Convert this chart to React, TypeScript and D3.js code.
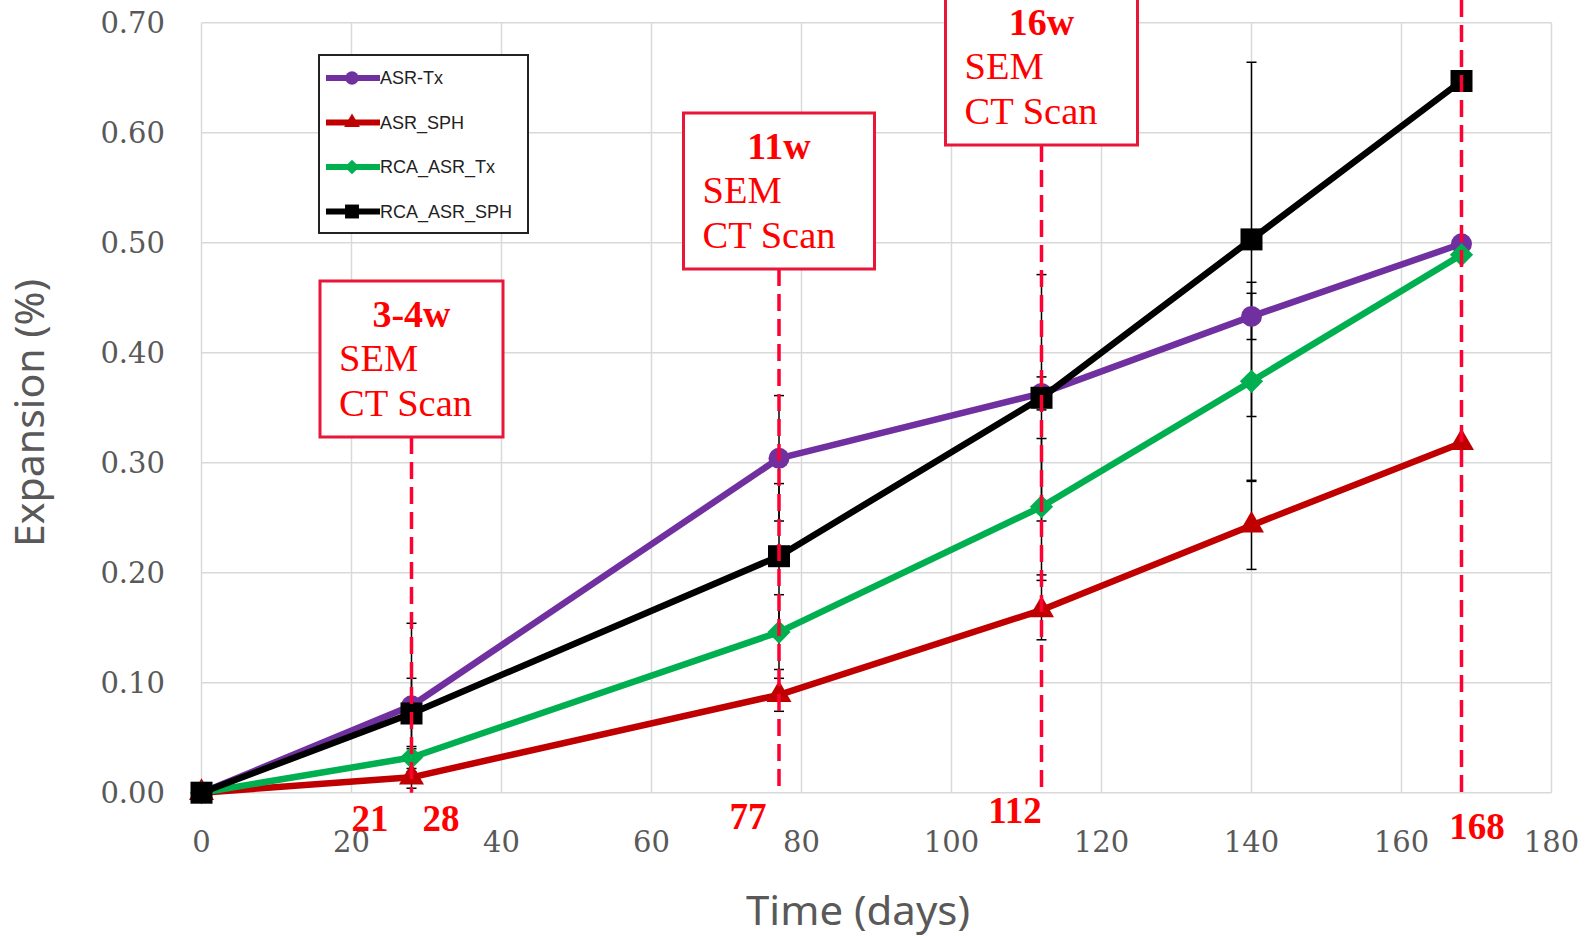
import React, { useEffect, useRef } from "react";
import * as d3 from "d3";

// time in days
const days = [0, 28, 77, 112, 140, 168];

// expansion (%) per series, with error bar half-widths
const asrTx = [0, 0.079, 0.304, 0.363, 0.433, 0.499];
const asrTxErr = [0, 0.075, 0.057, 0.015, 0.021, 0];
const asrSph = [0, 0.014, 0.089, 0.166, 0.243, 0.318];
const asrSphErr = [0, 0.005, 0.015, 0.027, 0.04, 0];
const rcaTx = [0, 0.032, 0.146, 0.26, 0.374, 0.489];
const rcaTxErr = [0, 0.01, 0.034, 0.062, 0.09, 0];
const rcaSph = [0, 0.072, 0.215, 0.359, 0.503, 0.647];
const rcaSphErr = [0, 0.032, 0.066, 0.112, 0.161, 0];

const seriesNames = ["ASR-Tx", "ASR_SPH", "RCA_ASR_Tx", "RCA_ASR_SPH"];

const xTicks = [0, 20, 40, 60, 80, 100, 120, 140, 160, 180];
const yTicks = [0, 0.1, 0.2, 0.3, 0.4, 0.5, 0.6, 0.7];

// sampling ages (red dashed lines) and their notes
const sampleDays = [28, 77, 112, 168];
const noteDays = [28, 77, 112];
const noteTitles = ["3-4w", "11w", "16w"];
const noteLines = ["SEM", "CT Scan"];
const dayLabelText = ["21", "28", "77", "112", "168"];
const dayLabelAt = [28, 28, 77, 112, 168];

const W = 1587;
const H = 936;

export default function App() {
  const ref = useRef<SVGSVGElement>(null);

  useEffect(() => {
    const svg = d3.select(ref.current);
    svg.selectAll("*").remove();

    const left = 201.5, right = 1551.5, top = 22.7, bottom = 792.7;
    const x = d3.scaleLinear().domain([0, 180]).range([left, right]);
    const y = d3.scaleLinear().domain([0, 0.7]).range([bottom, top]);

    const series = [
      { name: seriesNames[0], vals: asrTx, err: asrTxErr, color: "#7030A0", shape: "circle" },
      { name: seriesNames[1], vals: asrSph, err: asrSphErr, color: "#C00000", shape: "triangle" },
      { name: seriesNames[2], vals: rcaTx, err: rcaTxErr, color: "#00B050", shape: "diamond" },
      { name: seriesNames[3], vals: rcaSph, err: rcaSphErr, color: "#000000", shape: "square" },
    ];

    const symbolPath = (shape: string, scale: number) => {
      if (shape === "circle") return d3.symbol(d3.symbolCircle, 346 * scale)();
      if (shape === "triangle") return d3.symbol(d3.symbolTriangle, 270 * scale)();
      if (shape === "square") return d3.symbol(d3.symbolSquare, 484 * scale)();
      return d3.symbol(d3.symbolSquare, 270 * scale)();
    };

    // grid
    const grid = svg.append("g");
    grid.selectAll("line.h")
      .data(yTicks)
      .enter()
      .append("line")
      .attr("x1", left)
      .attr("x2", right)
      .attr("y1", (d) => y(d))
      .attr("y2", (d) => y(d))
      .attr("stroke", "#D9D9D9")
      .attr("stroke-width", 1.5);
    grid.selectAll("line.v")
      .data(xTicks)
      .enter()
      .append("line")
      .attr("x1", (d) => x(d))
      .attr("x2", (d) => x(d))
      .attr("y1", top)
      .attr("y2", bottom)
      .attr("stroke", "#D9D9D9")
      .attr("stroke-width", 1.5);

    // tick labels
    svg.append("g")
      .selectAll("text")
      .data(yTicks)
      .enter()
      .append("text")
      .attr("x", 165)
      .attr("y", (d) => y(d))
      .attr("dy", "0.36em")
      .attr("text-anchor", "end")
      .attr("font-family", "DejaVu Serif")
      .attr("font-size", 29)
      .attr("fill", "#595959")
      .text((d) => d3.format(".2f")(d));

    svg.append("g")
      .selectAll("text")
      .data(xTicks)
      .enter()
      .append("text")
      .attr("x", (d) => x(d))
      .attr("y", 842)
      .attr("dy", "0.36em")
      .attr("text-anchor", "middle")
      .attr("font-family", "DejaVu Serif")
      .attr("font-size", 29)
      .attr("fill", "#595959")
      .text((d) => d);

    // axis titles
    svg.append("text")
      .attr("transform", "translate(44, 413) rotate(-90)")
      .attr("text-anchor", "middle")
      .attr("font-family", "Noto Sans")
      .attr("font-size", 40)
      .attr("fill", "#595959")
      .attr("textLength", 268)
      .attr("lengthAdjust", "spacingAndGlyphs")
      .text("Expansion (%)");

    svg.append("text")
      .attr("x", 858)
      .attr("y", 925)
      .attr("text-anchor", "middle")
      .attr("font-family", "Noto Sans")
      .attr("font-size", 40)
      .attr("fill", "#595959")
      .attr("textLength", 224)
      .attr("lengthAdjust", "spacingAndGlyphs")
      .text("Time (days)");

    const plot = svg.append("g");
    plot.append("clipPath").attr("id", "clip")
      .append("rect").attr("x", left).attr("y", top).attr("width", right - left).attr("height", bottom - top);

    // error bars
    const eb = plot.append("g").attr("clip-path", "url(#clip)");
    series.forEach((s) => {
      days.forEach((d, i) => {
        const e = s.err[i];
        if (!e) return;
        const g = eb.append("g").attr("stroke", "#000").attr("stroke-width", 1.5);
        g.append("line")
          .attr("x1", x(d)).attr("x2", x(d))
          .attr("y1", y(s.vals[i] + e)).attr("y2", y(s.vals[i] - e));
        [s.vals[i] + e, s.vals[i] - e].forEach((v) => {
          g.append("line")
            .attr("x1", x(d) - 5).attr("x2", x(d) + 5)
            .attr("y1", y(v)).attr("y2", y(v));
        });
      });
    });

    // series lines + markers
    const line = d3.line<number>()
      .x((_, i) => x(days[i]))
      .y((v) => y(v));
    series.forEach((s) => {
      plot.append("path")
        .attr("d", line(s.vals))
        .attr("fill", "none")
        .attr("stroke", s.color)
        .attr("stroke-width", 6.5)
        .attr("stroke-linejoin", "round");
      plot.append("g")
        .selectAll("path")
        .data(s.vals)
        .enter()
        .append("path")
        .attr("d", symbolPath(s.shape, 1))
        .attr("transform", (v, i) =>
          `translate(${x(days[i])},${y(v)})` + (s.shape === "diamond" ? " rotate(45)" : ""))
        .attr("fill", s.color);
    });

    // red dashed sampling lines
    const lineTops = [437, 269, 145, 0];
    plot.append("g")
      .selectAll("line")
      .data(sampleDays)
      .enter()
      .append("line")
      .attr("x1", (d) => x(d))
      .attr("x2", (d) => x(d))
      .attr("y1", (d, i) => lineTops[i])
      .attr("y2", bottom)
      .attr("stroke", "#FF0033")
      .attr("stroke-width", 3.5)
      .attr("stroke-dasharray", "17 8");

    // note boxes
    const boxTop = [281, 113, -5];
    const boxBottom = [437, 269, 145];
    const boxW = [183, 191, 192];
    noteDays.forEach((d, i) => {
      const cx = x(d);
      const g = svg.append("g");
      g.append("rect")
        .attr("x", cx - boxW[i] / 2)
        .attr("y", boxTop[i])
        .attr("width", boxW[i])
        .attr("height", boxBottom[i] - boxTop[i])
        .attr("fill", "#fff")
        .attr("stroke", "#E8173A")
        .attr("stroke-width", 3);
      g.append("text")
        .attr("x", cx)
        .attr("y", boxBottom[i] - 110)
        .attr("text-anchor", "middle")
        .attr("font-family", "Liberation Serif")
        .attr("font-weight", "bold")
        .attr("font-size", 38)
        .attr("fill", "#FF0000")
        .text(noteTitles[i]);
      noteLines.forEach((t, j) => {
        g.append("text")
          .attr("x", cx - boxW[i] / 2 + 19)
          .attr("y", boxBottom[i] - 66 + j * 44.5)
          .attr("font-family", "Liberation Serif")
          .attr("font-size", 38.5)
          .attr("fill", "#FF0000")
          .text(t);
      });
    });

    // red day labels under the axis
    const dayDx = [-41.5, 29.5, -31, -26.5, 15.5];
    const dayY = [818, 818, 816, 810, 826];
    svg.append("g")
      .selectAll("text")
      .data(dayLabelText)
      .enter()
      .append("text")
      .attr("x", (t, i) => x(dayLabelAt[i]) + dayDx[i])
      .attr("y", (t, i) => dayY[i])
      .attr("dy", "0.35em")
      .attr("text-anchor", "middle")
      .attr("font-family", "Liberation Serif")
      .attr("font-weight", "bold")
      .attr("font-size", 37)
      .attr("fill", "#FF0000")
      .text((t) => t);

    // legend
    const lg = svg.append("g");
    lg.append("rect")
      .attr("x", 319).attr("y", 55).attr("width", 209).attr("height", 178)
      .attr("fill", "#fff").attr("stroke", "#222").attr("stroke-width", 2);
    series.forEach((s, i) => {
      const ly = 78 + i * 44.5;
      lg.append("line")
        .attr("x1", 326).attr("x2", 380).attr("y1", ly).attr("y2", ly)
        .attr("stroke", s.color).attr("stroke-width", 6);
      lg.append("path")
        .attr("d", symbolPath(s.shape, 0.4))
        .attr("transform", `translate(352,${ly})` + (s.shape === "diamond" ? " rotate(45)" : ""))
        .attr("fill", s.color);
      lg.append("text")
        .attr("x", 380).attr("y", ly).attr("dy", "0.36em")
        .attr("font-family", "Liberation Sans")
        .attr("font-size", 18)
        .attr("fill", "#222")
        .text(s.name);
    });
  }, []);

  return (
    <svg
      ref={ref}
      width={W}
      height={H}
      style={{ position: "absolute", left: 0, top: 0, background: "#fff" }}
    />
  );
}
